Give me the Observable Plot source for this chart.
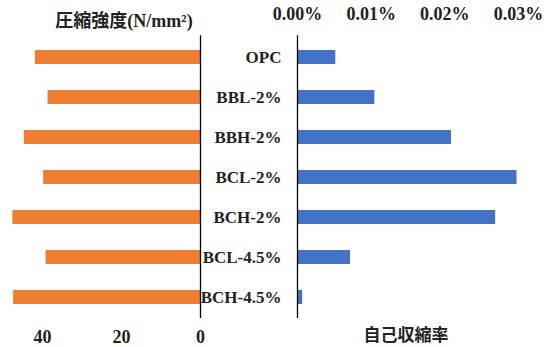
<!DOCTYPE html>
<html>
<head>
<meta charset="utf-8">
<script src="https://cdn.jsdelivr.net/npm/d3@7"></script>
<script src="https://cdn.jsdelivr.net/npm/@observablehq/plot@0.6"></script>
<style>
  body { margin: 0; background: #fff; }
  #chart { position: relative; width: 560px; height: 347px; overflow: hidden; }
  #chart svg { position: absolute; left: 0; top: 0; }
  .ttl { position: absolute; white-space: nowrap; color: #222; transform: translate(-50%, -50%); }
  .cjk { font-family: "Noto Sans CJK JP", sans-serif; font-weight: 700; }
  .ser { font-family: "Liberation Serif", serif; font-weight: 700; }
</style>
</head>
<body>
<div id="chart">
  <div class="ttl" style="left:124px; top:19px; font-size:18px;"><span class="cjk">圧縮強度</span><span class="ser">(N/mm²)</span></div>
  <div class="ttl cjk" style="left:406px; top:333px; font-size:17px;">自己収縮率</div>
</div>
<script>
// Mix designs, top to bottom
const categories = ["OPC", "BBL-2%", "BBH-2%", "BCL-2%", "BCH-2%", "BCL-4.5%", "BCH-4.5%"];
// Compressive strength, N/mm²
const strength = [41.8, 38.6, 44.6, 39.7, 47.5, 39.1, 47.3];
// Autogenous shrinkage, %
const shrinkage = [0.0052, 0.0105, 0.0209, 0.0298, 0.0269, 0.0072, 0.0007];
// Axis ticks
const strengthTicks = [0, 20, 40];
const shrinkageTicks = [0, 0.01, 0.02, 0.03];

const rows = categories.map((c, i) => ({ name: c, strength: strength[i], shrinkage: shrinkage[i] }));

const W = 560, H = 347;
const yScale = {
  domain: categories,
  paddingInner: 0.64,
  paddingOuter: 0.32,
  axis: null
};
const serif = "Liberation Serif, Times New Roman, serif";

// Left panel: compressive strength, growing leftwards
const left = Plot.plot({
  width: W, height: H,
  marginLeft: 2.5, marginRight: 360, marginTop: 35.3, marginBottom: 28.9,
  style: { fontFamily: serif, background: "transparent", overflow: "visible" },
  x: { domain: [0, 50], reverse: true, axis: null },
  y: yScale,
  marks: [
    Plot.barX(rows, { y: "name", x: "strength", fill: "#ED7D31" }),
    Plot.ruleX([0], { stroke: "#000", strokeWidth: 1.3 }),
    Plot.axisX({
      anchor: "bottom", ticks: strengthTicks, tickSize: 0, tickPadding: 12, label: null,
      tickFormat: d => String(d), fontSize: 18, fontWeight: "bold", fill: "#222"
    })
  ]
});

// Right panel: autogenous shrinkage, with category names in the gutter
const right = Plot.plot({
  width: W, height: H,
  marginLeft: 297, marginRight: 42, marginTop: 35.3, marginBottom: 28.9,
  style: { fontFamily: serif, background: "transparent", overflow: "visible" },
  x: { domain: [0, 0.03], axis: null },
  y: yScale,
  marks: [
    Plot.barX(rows, { y: "name", x: "shrinkage", fill: "#4472C4" }),
    Plot.ruleX([0], { stroke: "#000", strokeWidth: 1.3 }),
    Plot.axisX({
      anchor: "top", ticks: shrinkageTicks, tickSize: 0, tickPadding: 16, label: null,
      tickFormat: d => d.toFixed(2) + "%", fontSize: 18, fontWeight: "bold", fill: "#222",
      style: { letterSpacing: "0.5px" }
    }),
    Plot.axisY({
      anchor: "left", tickSize: 0, tickPadding: 16, label: null,
      fontSize: 17, fontWeight: "bold", fill: "#222"
    })
  ]
});

const chart = document.getElementById("chart");
chart.prepend(right);
chart.prepend(left);
</script>
</body>
</html>
